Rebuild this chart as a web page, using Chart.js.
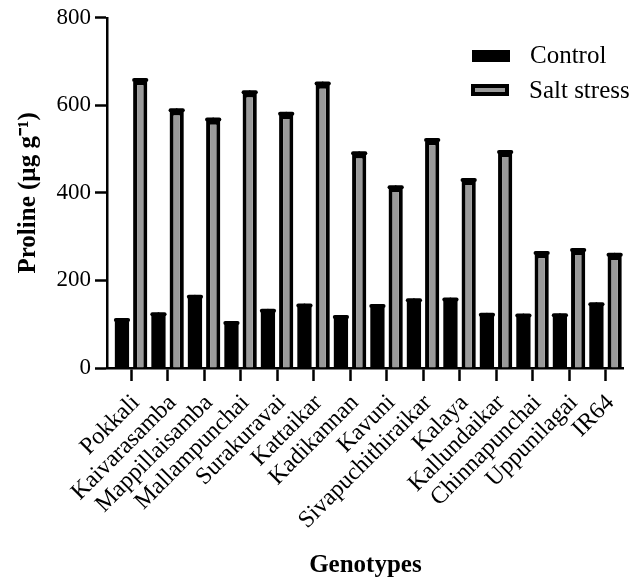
<!DOCTYPE html>
<html>
<head>
<meta charset="utf-8">
<script src="https://cdn.jsdelivr.net/npm/chart.js@4"></script>
<style>
html,body{margin:0;padding:0;background:#fff;}
#wrap{width:634px;height:585px;position:relative;}
</style>
</head>
<body>
<div id="wrap"><canvas id="c" width="634" height="585"></canvas></div>
<script>
const categories = ["Pokkali","Kaivarasamba","Mappillaisamba","Mallampunchai","Surakuravai","Kattaikar","Kadikannan","Kavuni","Sivapuchithiraikar","Kalaya","Kallundaikar","Chinnapunchai","Uppunilagai","IR64"];
const controlValues = [107,121,160,102,129,141,115,139,152,154,120,118,119,143];
const controlErrors = [5,4,5,3,4,4,4,5,5,5,4,4,4,5];
const saltValues = [655,586,565,627,578,647,488,411,518,427,491,260,267,256];
const saltErrors = [5,5,5,5,5,5,5,4,5,5,5,5,5,5];
const yTicks = [0,200,400,600,800];
const seriesNames = ["Control","Salt stress"];

const FONT = "'Liberation Serif','Times New Roman',serif";

const errorBars = {
  id: 'errorBars',
  afterDatasetsDraw(chart) {
    const ctx = chart.ctx;
    const ys = chart.scales.y;
    const errs = [controlErrors, saltErrors];
    chart.data.datasets.forEach((ds, di) => {
      const meta = chart.getDatasetMeta(di);
      meta.data.forEach((bar, i) => {
        const v = ds.data[i].y;
        const top = ys.getPixelForValue(v + errs[di][i]);
        ctx.save();
        ctx.strokeStyle = '#000';
        ctx.lineCap = 'round';
        ctx.lineWidth = 2;
        ctx.beginPath();
        ctx.moveTo(bar.x, bar.y);
        ctx.lineTo(bar.x, top);
        ctx.stroke();
        ctx.lineWidth = 4;
        ctx.beginPath();
        ctx.moveTo(bar.x - bar.width / 2 + 1, top + 1);
        ctx.lineTo(bar.x + bar.width / 2 - 1, top + 1);
        ctx.stroke();
        ctx.restore();
      });
    });
  }
};

const legendPlugin = {
  id: 'customLegend',
  afterDraw(chart) {
    const ctx = chart.ctx;
    ctx.save();
    ctx.fillStyle = '#000';
    ctx.fillRect(472, 50, 38, 12);
    ctx.fillStyle = '#000';
    ctx.fillRect(471, 84, 38, 12);
    ctx.fillStyle = '#9a9a9a';
    ctx.fillRect(475, 88, 30, 4);
    ctx.fillStyle = '#000';
    ctx.font = "25px " + FONT;
    ctx.textBaseline = 'middle';
    ctx.textAlign = 'left';
    ctx.fillText(seriesNames[0], 530, 56);
    ctx.fillText(seriesNames[1], 529, 91);
    ctx.restore();
  }
};

new Chart(document.getElementById('c'), {
  type: 'bar',
  data: {
    datasets: [
      {
        label: seriesNames[0],
        data: controlValues.map((v, i) => ({x: i, y: v})),
        backgroundColor: '#000',
        borderColor: '#000',
        borderWidth: 0,
        barPercentage: 0.78,
        categoryPercentage: 1.0
      },
      {
        label: seriesNames[1],
        data: saltValues.map((v, i) => ({x: i, y: v})),
        backgroundColor: '#9a9a9a',
        borderColor: '#000',
        borderWidth: 4,
        borderSkipped: 'bottom',
        barPercentage: 0.78,
        categoryPercentage: 1.0
      }
    ]
  },
  options: {
    responsive: false,
    animation: false,
    devicePixelRatio: 1,
    layout: {padding: {top: 16, right: 3, left: 0, bottom: 0}},
    plugins: {legend: {display: false}, tooltip: {enabled: false}},
    scales: {
      x: {
        type: 'linear',
        min: -0.66,
        max: 13.5,
        offset: false,
        afterBuildTicks: (s) => { s.ticks = categories.map((c, i) => ({value: i})); },
        afterFit: (s) => { s.height = 217; },
        ticks: {
          autoSkip: false,
          minRotation: 45,
          maxRotation: 45,
          color: '#000',
          font: {family: FONT, size: 24},
          padding: 8,
          labelOffset: 5,
          callback: (v) => categories[v]
        },
        grid: {display: true, offset: false, drawOnChartArea: false, drawTicks: true, tickLength: 13, tickWidth: 2.5, tickColor: '#000', color: '#000'},
        border: {display: true, color: '#000', width: 2.5},
        title: {display: true, text: 'Genotypes', color: '#000', font: {family: FONT, size: 25, weight: 'bold'}, padding: {top: 4, bottom: 4}}
      },
      y: {
        min: 0,
        max: 800,
        afterBuildTicks: (s) => { s.ticks = yTicks.map(v => ({value: v})); },
        afterFit: (s) => { s.width = 107; },
        ticks: {color: '#000', font: {family: FONT, size: 23}, padding: 4},
        grid: {display: true, offset: false, drawOnChartArea: false, drawTicks: true, tickLength: 12, tickWidth: 2.5, tickColor: '#000', color: '#000'},
        border: {display: true, color: '#000', width: 2.5},
        title: {display: true, text: 'Proline (µg g⁻¹)', color: '#000', font: {family: FONT, size: 25, weight: 'bold'}, padding: {top: 14, bottom: 4}}
      }
    }
  },
  plugins: [errorBars, legendPlugin]
});
</script>
</body>
</html>
